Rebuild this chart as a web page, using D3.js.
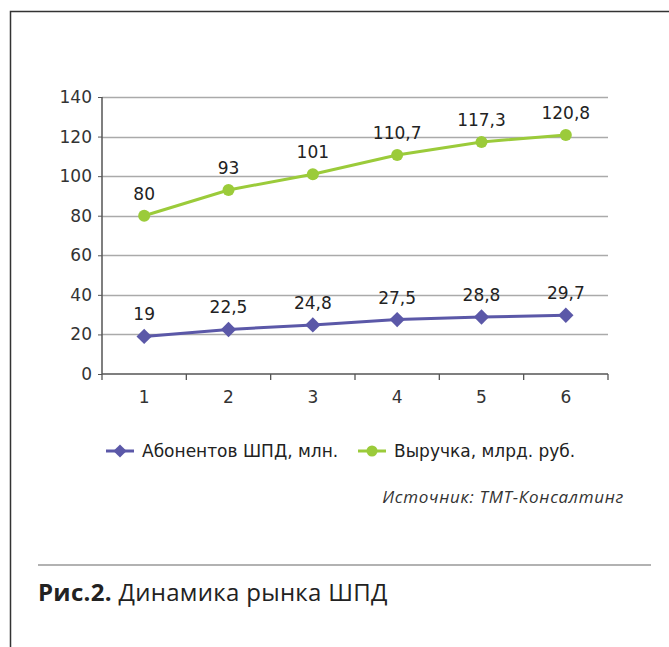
<!DOCTYPE html>
<html><head><meta charset="utf-8">
<script src="https://cdn.jsdelivr.net/npm/d3@7"></script>
<style>body{margin:0;background:#fff}svg{display:block}</style>
</head><body>
<script>
const categories = ["1","2","3","4","5","6"];
const subscribers = [19, 22.5, 24.8, 27.5, 28.8, 29.7];
const revenue = [80, 93, 101, 110.7, 117.3, 120.8];
const yTicks = [0,20,40,60,80,100,120,140];
const seriesNames = ["Абонентов ШПД, млн.", "Выручка, млрд. руб."];
const colors = ["#5b58a8", "#9bcb3a"];

const W = 669, H = 647;
const svg = d3.select("body").append("svg").attr("width", W).attr("height", H);
const font = "'Open Sans', 'Noto Sans', sans-serif";
const nfont = "'DejaVu Sans', sans-serif";
const fmt = v => String(v).replace(".", ",");

// frame
svg.append("path").attr("d", `M10.5,${H} V11.5 H${W}`).attr("fill","none").attr("stroke","#333").attr("stroke-width",1.5);

const x = d3.scaleBand().domain(categories).range([102, 608]);
const y = d3.scaleLinear().domain([0,140]).range([374, 97]);

// gridlines
svg.append("g").selectAll("line").data(yTicks.filter(t=>t>0)).join("line")
  .attr("x1",102).attr("x2",608).attr("y1",d=>Math.round(y(d))+0.5).attr("y2",d=>Math.round(y(d))+0.5)
  .attr("stroke","#aaa").attr("stroke-width",1.3);

// y axis
const ya = svg.append("g").attr("transform","translate(102,0)")
  .call(d3.axisLeft(y).tickValues(yTicks).tickSize(4).tickPadding(6));
ya.select(".domain").attr("stroke","#555").attr("stroke-width",1.5).attr("d","M0,97V374");
ya.selectAll(".tick line").attr("stroke","#555");
ya.selectAll("text").attr("font-family",nfont).attr("font-size",17).attr("fill","#333");

// x axis
const xa = svg.append("g").attr("transform","translate(0,374)")
  .call(d3.axisBottom(x).tickSize(0).tickPadding(17));
xa.select(".domain").attr("stroke","#555").attr("stroke-width",1.5).attr("d","M102,0H608");
xa.selectAll("text").attr("font-family",nfont).attr("font-size",17).attr("fill","#333");
const bounds = categories.map(c=>x(c)).concat([608]);
svg.append("g").selectAll("line").data(bounds).join("line")
  .attr("x1",d=>d).attr("x2",d=>d).attr("y1",374).attr("y2",380).attr("stroke","#555").attr("stroke-width",1.3);

const cx = c => x(c) + x.bandwidth()/2;
const line = d3.line().x((d,i)=>cx(categories[i])).y(d=>y(d));

const series = [subscribers, revenue];
series.forEach((vals, si) => {
  const g = svg.append("g");
  g.append("path").datum(vals).attr("d", line).attr("fill","none").attr("stroke",colors[si]).attr("stroke-width",3);
  if (si === 0) {
    g.selectAll("path.m").data(vals).join("path").attr("class","m")
      .attr("d", d3.symbol(d3.symbolDiamond2, 150)())
      .attr("transform",(d,i)=>`translate(${cx(categories[i])},${y(d)})`).attr("fill",colors[si]);
  } else {
    g.selectAll("circle").data(vals).join("circle")
      .attr("cx",(d,i)=>cx(categories[i])).attr("cy",d=>y(d)).attr("r",6).attr("fill",colors[si]);
  }
  g.selectAll("text").data(vals).join("text")
    .attr("x",(d,i)=>cx(categories[i])).attr("y",d=>y(d)-16)
    .attr("text-anchor","middle").attr("font-family",nfont).attr("font-size",17).attr("fill","#222")
    .text(fmt);
});

// legend
const legX = [106, 358];
seriesNames.forEach((name, si) => {
  const g = svg.append("g").attr("transform",`translate(${legX[si]},451)`);
  g.append("line").attr("x1",0).attr("x2",28).attr("stroke",colors[si]).attr("stroke-width",3);
  if (si === 0) g.append("path").attr("d", d3.symbol(d3.symbolDiamond2, 110)()).attr("transform","translate(14,0)").attr("fill",colors[si]);
  else g.append("circle").attr("cx",14).attr("r",5.5).attr("fill",colors[si]);
  g.append("text").attr("x",36).attr("y",6).attr("font-family",nfont).attr("font-size",17).attr("fill","#222").text(name);
});

// source
svg.append("text").attr("x",624).attr("y",503).attr("text-anchor","end")
  .attr("font-family",font).attr("font-style","italic").attr("font-size",17).attr("letter-spacing",0.7).attr("fill","#333")
  .text("Источник: ТМТ-Консалтинг");

// separator
svg.append("line").attr("x1",38).attr("x2",651).attr("y1",565).attr("y2",565).attr("stroke","#999").attr("stroke-width",1.5);

// caption
const cap = svg.append("text").attr("x",38).attr("y",601).attr("font-family",font).attr("font-size",24).attr("letter-spacing",0.3).attr("fill","#222");
cap.append("tspan").attr("font-weight","bold").text("Рис.2.");
cap.append("tspan").text(" Динамика рынка ШПД");
</script>
</body></html>
